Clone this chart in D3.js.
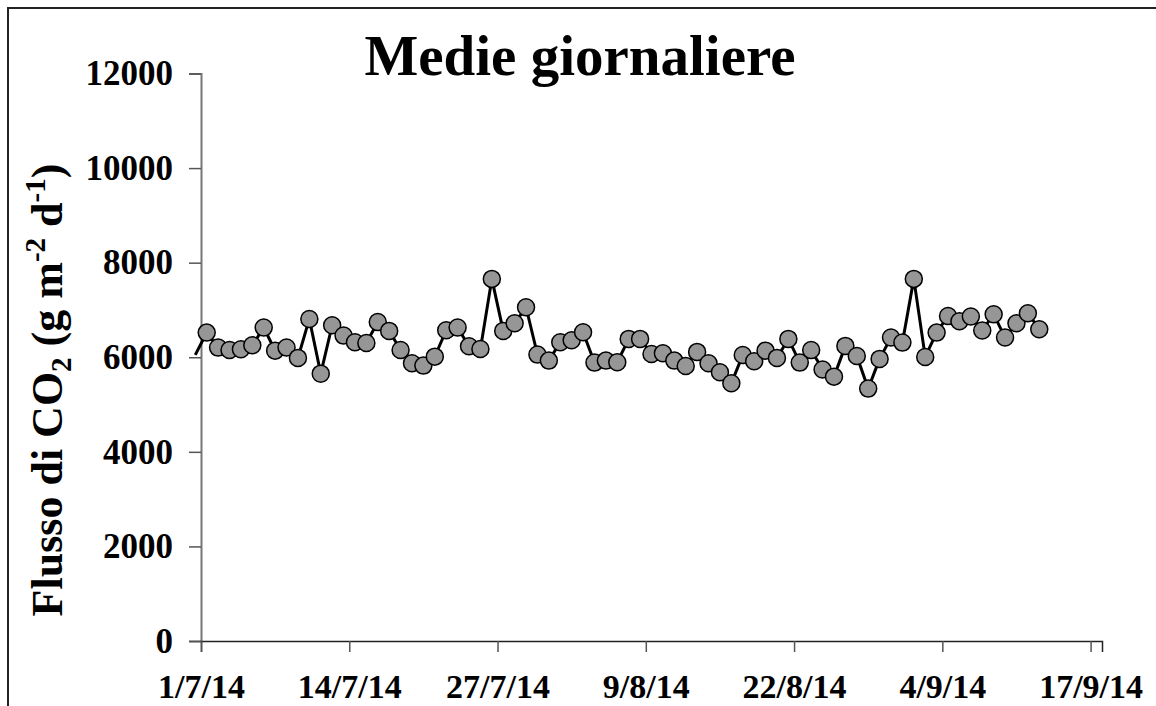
<!DOCTYPE html>
<html>
<head>
<meta charset="utf-8">
<script src="https://cdn.jsdelivr.net/npm/d3@7"></script>
<style>
  html, body { margin: 0; padding: 0; background: #fff; }
  svg { display: block; }
  text { font-family: "Liberation Serif", "Times New Roman", serif; font-weight: bold; fill: #000; }
</style>
</head>
<body>
<svg id="chart" width="1156" height="706"></svg>
<script>
// daily means, first value is 30/6/14 (only its line segment shows)
const firstDay = "2014-06-30";
const flux = [
  6050,
  6521, 6204, 6155, 6170, 6254, 6627, 6140, 6204, 5986, 6810,
  5653, 6677, 6458, 6318, 6303, 6747, 6557, 6155, 5874, 5823,
  6013, 6571, 6627, 6233, 6176, 7657, 6557, 6719, 7057, 6056,
  5929, 6318, 6360, 6529, 5887, 5929, 5894, 6388, 6388, 6070,
  6085, 5929, 5816, 6113, 5874, 5683, 5450, 6049, 5916, 6140,
  5986, 6388, 5887, 6155, 5740, 5590, 6240, 6028, 5337, 5965,
  6416, 6310, 7657, 6007, 6521, 6874, 6762, 6860, 6564, 6910,
  6416, 6719, 6931, 6593
];
const yTicks = [0, 2000, 4000, 6000, 8000, 10000, 12000];
const xTickLabels = ["1/7/14", "14/7/14", "27/7/14", "9/8/14", "22/8/14", "4/9/14", "17/9/14"];
const xDomain = ["2014-07-01", "2014-09-18"];

const svg = d3.select("#chart");
const parse = d3.utcParse("%Y-%m-%d");
const start = parse(firstDay);

// points sit at noon of each day
const data = flux.map((v, i) => ({
  date: d3.utcHour.offset(d3.utcDay.offset(start, i), 12),
  value: v
}));

const x = d3.scaleUtc()
  .domain(xDomain.map(parse))
  .range([201, 1102]);

const y = d3.scaleLinear()
  .domain([0, 12000])
  .range([641, 73.5]);

// outer frame
svg.append("rect")
  .attr("x", 8).attr("y", 8)
  .attr("width", 1160).attr("height", 710)
  .attr("fill", "none")
  .attr("stroke", "#222")
  .attr("stroke-width", 2);

// title
svg.append("text")
  .attr("x", 580).attr("y", 75)
  .attr("text-anchor", "middle")
  .style("font-size", "57px")
  .text("Medie giornaliere");

// y axis
const yAxis = svg.append("g")
  .attr("transform", "translate(201,0)")
  .call(d3.axisLeft(y).tickValues(yTicks).tickSize(12).tickPadding(16).tickFormat(d3.format("d")));
yAxis.select(".domain").attr("stroke", "#777").attr("stroke-width", 2);
yAxis.selectAll(".tick line").attr("stroke", "#555").attr("stroke-width", 1.5);
yAxis.selectAll(".tick text")
  .style("font-size", "35px")
  .style("font-family", "'Liberation Serif', serif")
  .style("font-weight", "bold")
  .attr("fill", "#000");

// x axis
const xTicks = xTickLabels.map(s => {
  const p = s.split("/");
  return new Date(Date.UTC(2000 + +p[2], +p[1] - 1, +p[0]));
});
const xAxis = svg.append("g")
  .attr("transform", "translate(0,641)")
  .call(d3.axisBottom(x).tickValues(xTicks).tickSize(11).tickPadding(22)
    .tickFormat((d, i) => xTickLabels[i]));
xAxis.select(".domain").attr("stroke", "#222").attr("stroke-width", 1.5);
xAxis.selectAll(".tick line").attr("stroke", "#555").attr("stroke-width", 1.5);
xAxis.selectAll(".tick text")
  .style("font-size", "34px")
  .style("font-family", "'Liberation Serif', serif")
  .style("font-weight", "bold")
  .attr("fill", "#000");

// y axis title
const yTitle = svg.append("text")
  .attr("transform", "translate(62,390) rotate(-90)")
  .attr("text-anchor", "middle")
  .style("font-size", "44px");
yTitle.append("tspan").text("Flusso di CO");
yTitle.append("tspan").attr("dy", 9).style("font-size", "29px").text("2");
yTitle.append("tspan").attr("dy", -9).text(" (g m");
yTitle.append("tspan").attr("dy", -17).style("font-size", "29px").text("-2");
yTitle.append("tspan").attr("dy", 17).text(" d");
yTitle.append("tspan").attr("dy", -17).style("font-size", "29px").text("-1");
yTitle.append("tspan").attr("dy", 17).text(")");

// series line
const line = d3.line()
  .x(d => x(d.date))
  .y(d => y(d.value));

svg.append("path")
  .datum(data)
  .attr("d", line)
  .attr("fill", "none")
  .attr("stroke", "#000")
  .attr("stroke-width", 3)
  .attr("stroke-linejoin", "miter");

// markers only inside the axis range
svg.append("g")
  .selectAll("circle")
  .data(data.filter(d => d.date >= x.domain()[0]))
  .join("circle")
  .attr("cx", d => x(d.date))
  .attr("cy", d => y(d.value))
  .attr("r", 8.5)
  .attr("fill", "#969696")
  .attr("stroke", "#000")
  .attr("stroke-width", 1.5);
</script>
</body>
</html>
